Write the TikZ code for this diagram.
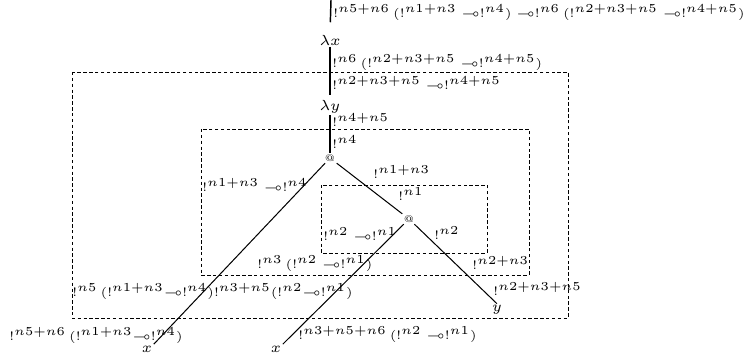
\documentclass[tikz,border=0pt]{standalone}
\usepackage{amssymb}
\newcommand{\lolli}{\multimap}
\tikzset{
  lbl/.style={anchor=west,inner sep=0pt,execute at begin node=$\scriptscriptstyle,execute at end node=$},
  term/.style={inner sep=0.5pt,font=\fontsize{6}{7}\selectfont},
  appnode/.style={inner sep=0.5pt,font=\fontsize{4}{5}\selectfont},
  wire/.style={line width=0.42pt},
  spine/.style={line width=0.6pt},
  scopebox/.style={dashed,line width=0.35pt,dash pattern=on 1.4pt off 1pt}
}
\begin{document}
\begin{tikzpicture}[x=0.41pt,y=-0.41pt]
\useasboundingbox (0,0) rectangle (745,356);
\draw[scopebox] (72,72) rectangle (568,318);
\draw[scopebox] (201,129) rectangle (529,275);
\draw[scopebox] (321,185) rectangle (487,253);
\coordinate (top) at (331,0);
\node[term] (lamx) at (330,40) {$\lambda x$};
\node[term] (lamy) at (330,107) {$\lambda y$};
\node[appnode] (app1) at (330,158) {@};
\node[appnode] (app2) at (409,219) {@};
\node[term] (x1) at (147,349) {$x$};
\node[term] (x2) at (276,349) {$x$};
\node[term] (y) at (497,310) {$y$};
\draw[spine,shorten <=4.5pt] (lamx.north) -- (top);
\draw[spine,shorten >=1.5pt] (lamx.south) -- (lamy.north);
\draw[spine] (lamy.south) -- (app1.north);
\draw[wire] (app1) -- (x1.north east);
\draw[wire] (app1) -- (app2);
\draw[wire] (app2) -- (x2.north east);
\draw[wire] (app2) -- (y.north);
\node[lbl] (ltop) at (333,12) {!^{n5+n6}\,(!^{n1+n3}\;\lolli!^{n4})\;\lolli!^{n6}\,(!^{n2+n3+n5}\;\lolli!^{n4+n5})};
\node[lbl] (lxa) at (332,62) {!^{n6}\,(!^{n2+n3+n5}\;\lolli!^{n4+n5})};
\node[lbl] (lxb) at (332,83) {!^{n2+n3+n5}\;\lolli!^{n4+n5}};
\node[lbl] (lya) at (332,120) {!^{n4+n5}};
\node[lbl] (lyb) at (332,142) {!^{n4}};
\node[lbl] (lfun) at (202,185) {!^{n1+n3}\;\lolli!^{n4}};
\node[lbl] (larg) at (373,172) {!^{n1+n3}};
\node[lbl] (largi) at (398,194) {!^{n1}};
\node[lbl] (lfunb) at (323,234) {!^{n2}\;\lolli!^{n1}};
\node[lbl] (largb) at (434,233) {!^{n2}};
\node[lbl] (lmid) at (257,264) {!^{n3}\,(!^{n2}\;\lolli!^{n1})};
\node[lbl] (lmidy) at (472,263) {!^{n2+n3}};
\node[lbl] (lout) at (72,291) {!^{n5}\,(!^{n1+n3}\lolli!^{n4})!^{n3+n5}(!^{n2}\lolli!^{n1})};
\node[lbl] (louty) at (493,289) {!^{n2+n3+n5}};
\node[lbl] (lxone) at (9,335) {!^{n5+n6}\,(!^{n1+n3}\lolli!^{n4})};
\node[lbl] (lxtwo) at (298,334) {!^{n3+n5+n6}\,(!^{n2}\;\lolli!^{n1})};
\end{tikzpicture}
\end{document}
